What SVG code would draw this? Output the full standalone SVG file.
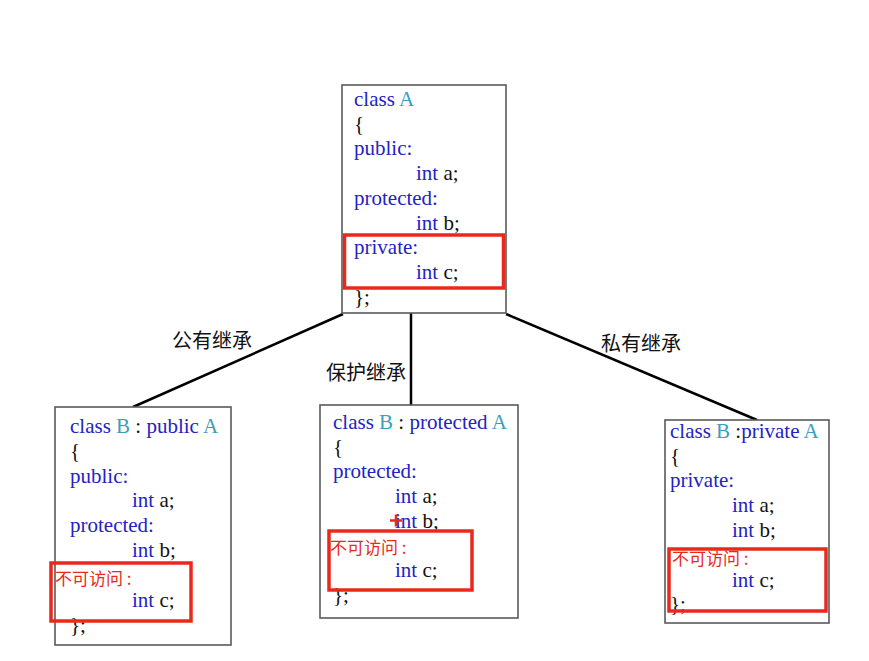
<svg xmlns="http://www.w3.org/2000/svg" width="869" height="661" viewBox="0 0 869 661">
<style>
.box{fill:#fff;stroke:#5a5a5a;stroke-width:1.6}
.hl{fill:none;stroke:#e8291c;stroke-width:3.5}
.code{font-family:"Liberation Serif","Times New Roman",serif;font-size:21px;fill:#111}
.kw{fill:#2323c4}
.id{fill:#3d9dbd}
.na{font-family:"Noto Sans CJK SC",sans-serif;font-size:17px;fill:#e8291c}
.lbl{font-family:"Noto Sans CJK SC",sans-serif;font-size:20px;fill:#111}
.edge{stroke:#000;stroke-width:2.5;fill:none}
</style>
<rect width="869" height="661" fill="#fff"/>
<g id="connectors">
<line class="edge" x1="343" y1="314" x2="133" y2="407"/>
<line class="edge" x1="411" y1="313" x2="411" y2="405"/>
<line class="edge" x1="506" y1="314" x2="757" y2="420"/>
</g>
<g id="labels">
<text class="lbl" x="172" y="348">公有继承</text>
<text class="lbl" x="326" y="380">保护继承</text>
<text class="lbl" x="601" y="351">私有继承</text>
</g>
<g id="classA">
<rect class="box" x="342" y="85" width="164" height="228"/>
<text class="code" x="354" y="106"><tspan class="kw">class</tspan> <tspan class="id">A</tspan></text>
<text class="code" x="354" y="131">{</text>
<text class="code kw" x="354" y="155">public:</text>
<text class="code" x="416" y="180"><tspan class="kw">int</tspan> a;</text>
<text class="code kw" x="354" y="205">protected:</text>
<text class="code" x="416" y="230"><tspan class="kw">int</tspan> b;</text>
<text class="code kw" x="354" y="254">private:</text>
<text class="code" x="416" y="279"><tspan class="kw">int</tspan> c;</text>
<text class="code" x="354" y="304">};</text>
<rect class="hl" x="344.5" y="235" width="159" height="53"/>
</g>
<g id="classB_public">
<rect class="box" x="55" y="407" width="176" height="238"/>
<text class="code" x="70" y="433"><tspan class="kw">class</tspan> <tspan class="id">B</tspan> : <tspan class="kw">public</tspan> <tspan class="id">A</tspan></text>
<text class="code" x="70" y="458">{</text>
<text class="code kw" x="70" y="483">public:</text>
<text class="code" x="132" y="507"><tspan class="kw">int</tspan> a;</text>
<text class="code kw" x="70" y="532">protected:</text>
<text class="code" x="132" y="557"><tspan class="kw">int</tspan> b;</text>
<text class="na" x="55" y="585">不可访问 :</text>
<text class="code" x="132" y="607"><tspan class="kw">int</tspan> c;</text>
<text class="code" x="70" y="632">};</text>
<rect class="hl" x="51" y="563" width="140" height="58"/>
</g>
<g id="classB_protected">
<rect class="box" x="320" y="405" width="198" height="213"/>
<text class="code" x="333" y="429"><tspan class="kw">class</tspan> <tspan class="id">B</tspan> : <tspan class="kw">protected</tspan> <tspan class="id">A</tspan></text>
<text class="code" x="333" y="454">{</text>
<text class="code kw" x="333" y="478">protected:</text>
<text class="code" x="395" y="503"><tspan class="kw">int</tspan> a;</text>
<text class="code" x="395" y="528"><tspan class="kw">int</tspan> b;</text>
<text class="na" x="330" y="554">不可访问 :</text>
<text class="code" x="395" y="577"><tspan class="kw">int</tspan> c;</text>
<text class="code" x="333" y="602">};</text>
<rect class="hl" x="329" y="531" width="143" height="59"/>
<path d="M390 520.5h12M396 514.5v12" stroke="#e8291c" stroke-width="2.5" fill="none"/>
</g>
<g id="classB_private">
<rect class="box" x="665" y="420" width="164" height="203"/>
<text class="code" x="670" y="438"><tspan class="kw">class</tspan> <tspan class="id">B</tspan> :<tspan class="kw">private</tspan> <tspan class="id">A</tspan></text>
<text class="code" x="670" y="463">{</text>
<text class="code kw" x="670" y="487">private:</text>
<text class="code" x="732" y="512"><tspan class="kw">int</tspan> a;</text>
<text class="code" x="732" y="537"><tspan class="kw">int</tspan> b;</text>
<text class="na" x="672" y="565">不可访问 :</text>
<text class="code" x="732" y="587"><tspan class="kw">int</tspan> c;</text>
<text class="code" x="670" y="611">};</text>
<rect class="hl" x="669" y="549" width="157" height="62"/>
</g>
</svg>
